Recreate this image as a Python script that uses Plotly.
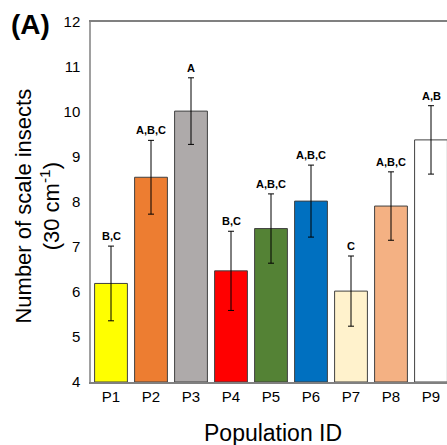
import plotly.graph_objects as go

populations = ["P1", "P2", "P3", "P4", "P5", "P6", "P7", "P8", "P9"]
means = [6.19, 8.55, 10.02, 6.47, 7.41, 8.02, 6.02, 7.91, 9.38]
errors = [0.83, 0.82, 0.74, 0.88, 0.77, 0.80, 0.78, 0.76, 0.76]
letters = ["B,C", "A,B,C", "A", "B,C", "A,B,C", "A,B,C", "C", "A,B,C", "A,B"]
colors = ["#FFFF00", "#ED7D31", "#AEAAAA", "#FF0000", "#548235",
          "#0070C0", "#FFF2CC", "#F4B183", "#FFFFFF"]
y_ticks = [4, 5, 6, 7, 8, 9, 10, 11, 12]

FONT = "Liberation Sans, Arial, sans-serif"

fig = go.Figure()
fig.add_trace(go.Bar(
    x=populations, y=[m - 4 for m in means], base=4,
    width=0.82,
    marker=dict(color=colors, line=dict(color="#404040", width=1)),
    error_y=dict(type="data", array=errors, visible=True,
                 color="#000000", thickness=1, width=3),
    showlegend=False,
))

for p, m, e, lab in zip(populations, means, errors, letters):
    fig.add_annotation(x=p, y=m + e, text="<b>" + lab + "</b>",
                       showarrow=False, xanchor="center", yanchor="bottom",
                       yshift=2,
                       font=dict(family=FONT, size=11, color="#000000"))

fig.add_annotation(xref="paper", yref="paper", x=-0.150, y=0.489,
                   xanchor="center", yanchor="middle",
                   text="Number of scale insects<br>(30 cm<sup>-1</sup>)",
                   textangle=-90, showarrow=False,
                   font=dict(family=FONT, size=22, color="#000000"))
fig.add_annotation(xref="paper", yref="paper", x=0.51, y=-0.142,
                   xanchor="center", yanchor="middle",
                   text="Population ID", showarrow=False,
                   font=dict(family=FONT, size=23, color="#000000"))
fig.add_annotation(xref="paper", yref="paper", x=-0.171, y=0.994,
                   xanchor="center", yanchor="middle",
                   text="<b>(A)</b>", showarrow=False,
                   font=dict(family=FONT, size=28, color="#000000"))

fig.update_layout(
    width=447, height=445,
    margin=dict(l=91, r=0, t=22, b=63, autoexpand=False),
    plot_bgcolor="white", paper_bgcolor="white",
    font=dict(family=FONT, color="#000000"),
    xaxis=dict(range=[-0.5, 8.4], showline=True, linecolor="#808080",
               linewidth=1.5, mirror=True, ticks="", showgrid=False,
               automargin=False,
               tickfont=dict(size=15, color="#000000")),
    yaxis=dict(range=[4, 12], tickvals=y_ticks, showline=True,
               linecolor="#A0A0A0", linewidth=1.5, ticks="", showgrid=False,
               zeroline=False, ticklabelstandoff=6, automargin=False,
               tickfont=dict(size=15, color="#000000")),
)

fig.write_html(
    "out.html",
    config={"displayModeBar": False},
    post_script="document.body.style.margin='0';"
                "document.body.style.overflow='hidden';",
)
